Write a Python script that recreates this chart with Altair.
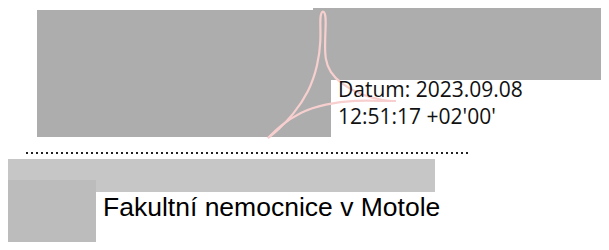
import altair as alt
import pandas as pd

# Noise (scanned-stamp) blocks, in picture pixel units
block_names = ["top_left", "top_right", "band", "bottom_left"]
block_x0 = [37, 313, 7, 7]
block_x1 = [331, 609, 435, 96]
block_y0 = [10, 7, 159, 180]
block_y1 = [137, 80, 192, 250]
block_tone = ["dark", "dark", "light", "mid"]

# Dotted signature line
dots_x = [26, 470]
dots_y = [153]

# Pink signature swirl strands
swirl_a_x = [268, 278, 293, 309, 318, 321, 320, 321, 323, 325, 326, 325, 325, 330, 340, 360, 385, 396]
swirl_a_y = [138, 130, 115, 92, 65, 40, 20, 13, 11, 13, 20, 40, 60, 72, 83, 95, 101, 101]
swirl_b_x = [268, 280, 300, 325, 355, 385, 396]
swirl_b_y = [138, 126, 112, 104, 100, 101, 101]

# Texts
date_lines = ["Datum: 2023.09.08", "12:51:17 +02'00'"]
date_x = [338, 338]
date_y = [97, 124]
org_text = ["Fakultní nemocnice v Motole"]
org_x = [103]
org_y = [216]

W, H = 593, 234
xs = alt.Scale(domain=[8, 8 + W], range=[0, W], nice=False, zero=False)
ys = alt.Scale(domain=[8, 8 + H], range=[0, H], nice=False, zero=False)

blocks = pd.DataFrame({"name": block_names, "x0": block_x0, "x1": block_x1,
                       "y0": block_y0, "y1": block_y1, "tone": block_tone})
rects = alt.Chart(blocks).mark_rect(clip=True).encode(
    x=alt.X("x0:Q", scale=xs, axis=None),
    x2="x1:Q",
    y=alt.Y("y0:Q", scale=ys, axis=None),
    y2="y1:Q",
    color=alt.Color("tone:N", legend=None,
                    scale=alt.Scale(domain=["dark", "mid", "light"],
                                    range=["#adadad", "#bcbcbc", "#c6c6c6"])),
)

dl = pd.DataFrame({"x0": [dots_x[0]], "x1": [dots_x[1]], "y": dots_y})
dotted = alt.Chart(dl).mark_rule(strokeDash=[2, 3], strokeWidth=2, color="#222222").encode(
    x=alt.X("x0:Q", scale=xs, axis=None), x2="x1:Q",
    y=alt.Y("y:Q", scale=ys, axis=None),
)

sw = pd.DataFrame({
    "x": swirl_a_x + swirl_b_x,
    "y": swirl_a_y + swirl_b_y,
    "strand": ["a"] * len(swirl_a_x) + ["b"] * len(swirl_b_x),
    "order": list(range(len(swirl_a_x))) + list(range(len(swirl_b_x))),
})
swirl = alt.Chart(sw).mark_line(color="#f8cfcf", strokeWidth=2.2, interpolate="basis").encode(
    x=alt.X("x:Q", scale=xs, axis=None),
    y=alt.Y("y:Q", scale=ys, axis=None),
    detail="strand:N",
    order="order:Q",
)

dt = pd.DataFrame({"t": date_lines, "x": date_x, "y": date_y})
date_txt = alt.Chart(dt).mark_text(align="left", baseline="alphabetic", font="Open Sans",
                                   fontSize=21, color="#111111").encode(
    x=alt.X("x:Q", scale=xs, axis=None),
    y=alt.Y("y:Q", scale=ys, axis=None),
    text="t:N",
)

ot = pd.DataFrame({"t": org_text, "x": org_x, "y": org_y})
org_txt = alt.Chart(ot).mark_text(align="left", baseline="alphabetic", font="Liberation Sans",
                                  fontSize=26.5, color="#000000").encode(
    x=alt.X("x:Q", scale=xs, axis=None),
    y=alt.Y("y:Q", scale=ys, axis=None),
    text="t:N",
)

chart = alt.layer(rects, dotted, swirl, date_txt, org_txt).properties(
    width=W, height=H, padding=0, autosize=alt.AutoSizeParams(type="none"),
    background="white",
).configure_view(stroke=None)

chart.save("out.html", embed_options={"renderer": "svg", "actions": False})
